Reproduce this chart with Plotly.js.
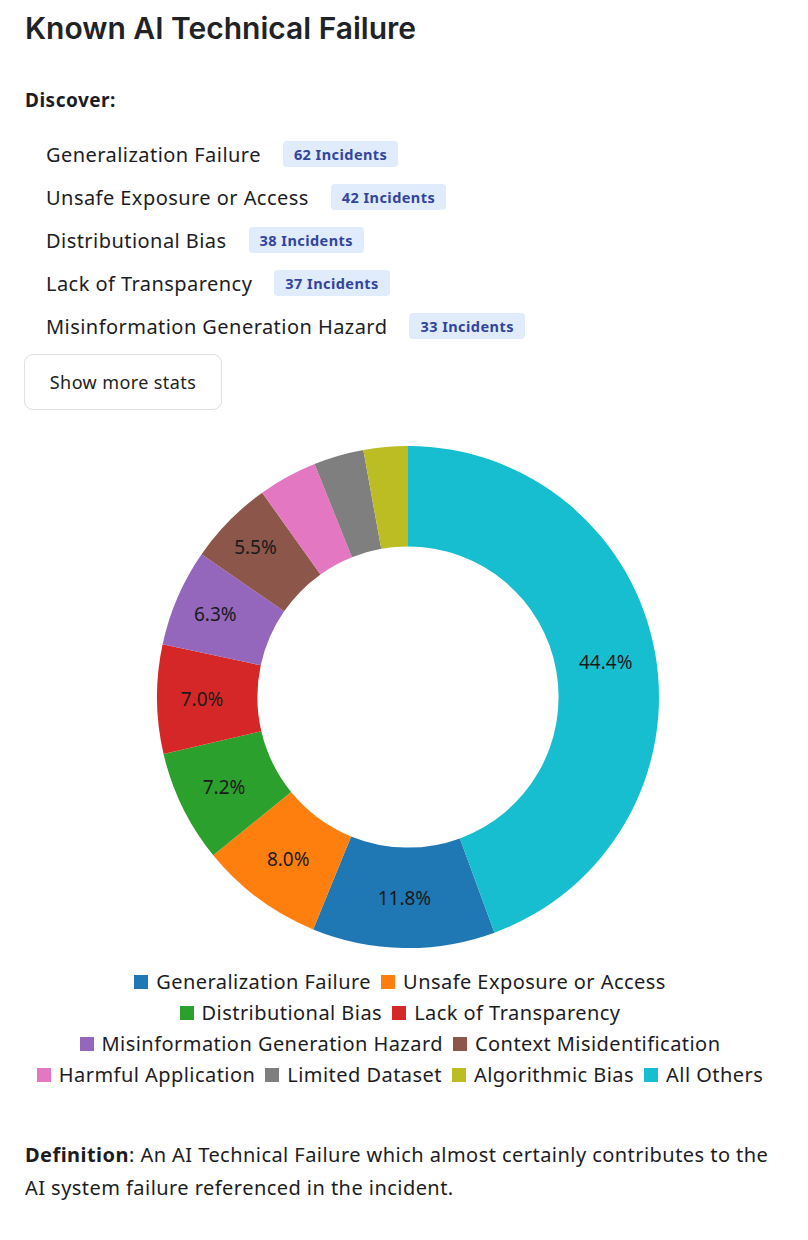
<!DOCTYPE html>
<html>
<head>
<meta charset="utf-8">
<script src="https://cdn.plot.ly/plotly-3.0.1.min.js"></script>
<style>
  html, body { margin: 0; padding: 0; background: #fff; }
  body { width: 808px; height: 1240px; position: relative; font-family: "Noto Sans", sans-serif; color: #1c1c24; }
  h1 { position: absolute; left: 25px; top: 10px; margin: 0; font-family: Inter, sans-serif; font-weight: 600; font-size: 30px; color: #1f2328; letter-spacing: 0; }
  .disc { position: absolute; left: 25px; top: 87px; font-weight: 700; font-size: 19px; letter-spacing: 0.5px; }
  .row { position: absolute; left: 46px; height: 30px; display: flex; align-items: center; font-size: 20px; letter-spacing: 0.45px; }
  .badge { margin-left: 22px; background: #e0ecfb; color: #33449f; font-weight: 700; font-size: 14.5px; letter-spacing: 0.45px; height: 26px; line-height: 26px; padding: 0 11px; border-radius: 4px; }
  .btn { position: absolute; left: 24px; top: 354px; width: 196px; height: 54px; border: 1px solid #e0e0e0; border-radius: 9px; display: flex; align-items: center; justify-content: center; font-size: 18px; letter-spacing: 0.4px; color: #222; }
  #chart { position: absolute; left: 0; top: 430px; width: 808px; height: 534px; }
  #legend { position: absolute; left: 25px; top: 966px; width: 750px; display: flex; flex-wrap: wrap; justify-content: center; font-size: 20px; letter-spacing: 0.45px; line-height: 31px; color: #1c1c24; }
  .li { display: flex; align-items: center; margin: 0 5px; white-space: nowrap; }
  .sq { width: 14px; height: 14px; margin-right: 8px; }
  .def { position: absolute; left: 25px; top: 1138px; font-size: 20px; letter-spacing: 0.45px; line-height: 33px; width: 790px; white-space: nowrap; }
</style>
</head>
<body>
<h1>Known AI Technical Failure</h1>
<div class="disc">Discover:</div>
<div id="list"></div>
<div class="btn">Show more stats</div>
<div id="chart"></div>
<div id="legend"></div>
<div class="def"><b>Definition</b>: An AI Technical Failure which almost certainly contributes to the<br>AI system failure referenced in the incident.</div>
<script>
const labels = ["Generalization Failure", "Unsafe Exposure or Access", "Distributional Bias", "Lack of Transparency",
  "Misinformation Generation Hazard", "Context Misidentification", "Harmful Application", "Limited Dataset",
  "Algorithmic Bias", "All Others"];
const values = [62, 42, 38, 37, 33, 29, 20, 17, 15, 234];
const colors = ["#1f77b4", "#ff7f0e", "#2ca02c", "#d62728", "#9467bd", "#8c564b", "#e377c2", "#7f7f7f", "#bcbd22", "#17becf"];
const topCount = 5;

const list = document.getElementById('list');
for (let i = 0; i < topCount; i++) {
  const r = document.createElement('div');
  r.className = 'row';
  r.style.top = (139 + i * 43) + 'px';
  r.innerHTML = '<span>' + labels[i] + '</span><span class="badge">' + values[i] + ' Incidents</span>';
  list.appendChild(r);
}

const leg = document.getElementById('legend');
labels.forEach((l, i) => {
  const d = document.createElement('div');
  d.className = 'li';
  d.innerHTML = '<span class="sq" style="background:' + colors[i] + '"></span><span>' + l + '</span>';
  leg.appendChild(d);
});

const total = values.reduce((a, b) => a + b, 0);
const rotation = 360 * values[values.length - 1] / total;

Plotly.newPlot('chart', [{
  type: 'pie',
  labels: labels,
  values: values,
  hole: 0.6,
  sort: false,
  direction: 'clockwise',
  rotation: rotation,
  texttemplate: '%{percent:.1%}',
  textposition: values.map(v => v / total >= 0.05 ? 'inside' : 'none'),
  insidetextorientation: 'horizontal',
  textfont: { color: '#1a1a1a', size: 19, family: 'Noto Sans, sans-serif' },
  marker: { colors: colors, line: { width: 0 } }
}], {
  width: 808, height: 534,
  margin: { l: 8, r: 0, t: 16, b: 16 },
  showlegend: false,
  paper_bgcolor: '#fff'
}, { displayModeBar: false, staticPlot: true });
</script>
</body>
</html>
